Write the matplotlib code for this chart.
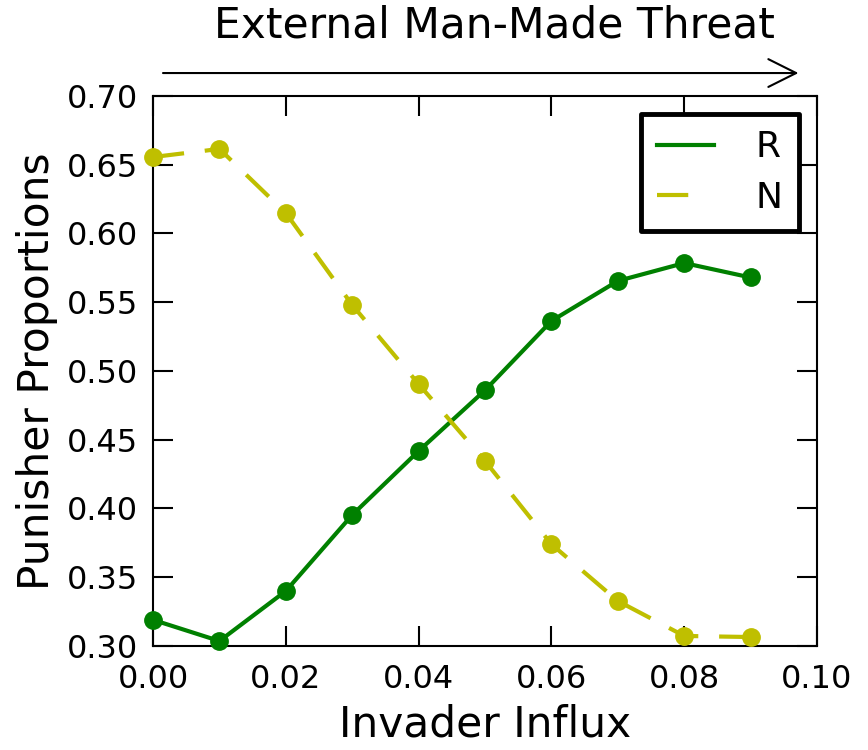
import matplotlib
matplotlib.use("Agg")
import matplotlib.pyplot as plt
from matplotlib.lines import Line2D

x = [0.00, 0.01, 0.02, 0.03, 0.04, 0.05, 0.06, 0.07, 0.08, 0.09]
r_vals = [0.319, 0.3036, 0.340, 0.3953, 0.4418, 0.486, 0.5364, 0.5655, 0.5785, 0.568]
n_vals = [0.6556, 0.6615, 0.6149, 0.548, 0.4905, 0.4345, 0.374, 0.3327, 0.3073, 0.3065]
xticks = [0.00, 0.02, 0.04, 0.06, 0.08, 0.10]
yticks = [0.30, 0.35, 0.40, 0.45, 0.50, 0.55, 0.60, 0.65, 0.70]

green = '#008000'
yellow = '#bfbf00'

plt.rcParams['font.family'] = ['DejaVu Sans']
fig = plt.figure(figsize=(8.68, 7.5), dpi=100)
ax = fig.add_axes([0.1763, 0.1387, 0.765, 0.7333])

ax.plot(x, r_vals, '-', color=green, lw=3, marker='o', ms=12.5, clip_on=False, zorder=3)
ax.plot(x, n_vals, color=yellow, lw=3, marker='o', ms=12.5, dashes=(7.5, 5), clip_on=False, zorder=3)

ax.set_xlim(0, 0.10)
ax.set_ylim(0.30, 0.70)
ax.set_xticks(xticks)
ax.set_yticks(yticks)
ax.set_xticklabels([f"{t:.2f}" for t in xticks])
ax.set_yticklabels([f"{t:.2f}" for t in yticks])
ax.tick_params(direction='in', length=14.5, width=1.5, top=True, right=True, labelsize=23)
ax.tick_params(axis='x', pad=13)
ax.tick_params(axis='y', pad=11)
for s in ax.spines.values():
    s.set_linewidth(1.5)

ax.set_xlabel('Invader Influx', fontsize=30.5, labelpad=6)
ax.set_ylabel('Punisher Proportions', fontsize=30.5, labelpad=6)

handles = [Line2D([], [], color=green, lw=3),
           Line2D([], [], color=yellow, lw=3, dashes=(7.5, 20))]
leg = ax.legend(handles, ['R', 'N'], loc='upper right', fontsize=26, fancybox=False,
                framealpha=1, handlelength=1.58, handletextpad=1.15, borderaxespad=0.5,
                borderpad=0.45, labelspacing=0.45)
frame = leg.get_frame()
frame.set_edgecolor('black')
frame.set_linewidth(3.5)
frame.set_joinstyle('round')

ax.annotate('', xy=(0.0972, 0.7167), xytext=(0.0015, 0.7167), xycoords='data', textcoords='data',
            annotation_clip=False,
            arrowprops=dict(arrowstyle='->', lw=1.5, color='black', mutation_scale=50,
                            shrinkA=0, shrinkB=0))
fig.text(0.570, 0.966, 'External Man-Made Threat', fontsize=30.5, ha='center', va='center')

fig.savefig('out.png', dpi=100)
